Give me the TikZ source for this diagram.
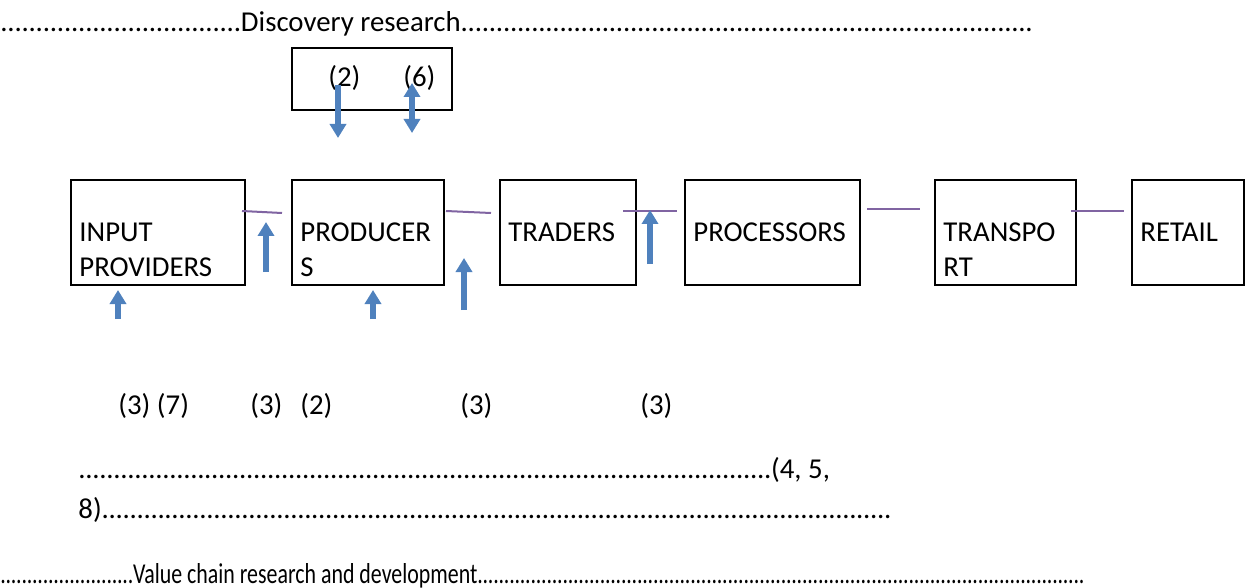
\documentclass[tikz,border=0pt]{standalone}
\usepackage{fontspec}
\usepackage{graphicx}
\setmainfont{Carlito}
\usetikzlibrary{arrows.meta,positioning}

\definecolor{arrowblue}{HTML}{4F81BD}
\definecolor{linkpurple}{HTML}{8064A2}

\newcommand\dotrun[1]{\hbox to #1{\xleaders\hbox to 3.5pt{\hss.\hss}\hfill}}

\tikzset{
  stage/.style={draw, line width=1pt, minimum height=52.5pt, inner sep=0pt},
  lbl/.style={anchor=north west, inner sep=0pt, align=left},
  txt/.style={anchor=base west, inner sep=0pt},
  flow/.style={arrowblue, line width=2.6pt, -{Triangle[width=8pt,length=7pt]}},
  flowboth/.style={arrowblue, line width=2.6pt, {Triangle[width=8pt,length=7pt]}-{Triangle[width=8pt,length=7pt]}},
  link/.style={linkpurple, line width=1pt}
}

\begin{document}
\begin{tikzpicture}[x=0.5pt, y=-0.5pt, font=\fontsize{14.4}{17.5}\selectfont]
\useasboundingbox (0,0) rectangle (1246,588);

% research lines
\node[txt] (disc) at (0,32) {\dotrun{120.5pt}Discovery research\dotrun{286.5pt}};
\node[txt] (vcrd) at (0,583) {\scalebox{0.76}[1]{\dotrun{87.5pt}Value chain research and development\dotrun{400pt}}};

% discovery box
\node[draw, line width=1pt, minimum width=80pt, minimum height=31pt] (rs) at (372,79) {};
\node[txt] (rs2) at (328,87) {(2)};
\node[txt] (rs6) at (403,87) {(6)};

% the chain
\node[stage, minimum width=87pt] (ip) at (158,232.5) {};
\node[stage, minimum width=76pt] (pr) at (368,232.5) {};
\node[stage, minimum width=68pt] (tr) at (568,232.5) {};
\node[stage, minimum width=87.5pt] (pc) at (772.5,232.5) {};
\node[stage, minimum width=70.5pt] (tp) at (1005.5,232.5) {};
\node[stage, minimum width=56pt] (rt) at (1188,232.5) {};

\node[lbl] at ([xshift=4.5pt,yshift=-18.75pt]ip.north west) {\strut INPUT\\PROVIDERS};
\node[lbl] at ([xshift=4.5pt,yshift=-18.75pt]pr.north west) {\strut PRODUCER\\S};
\node[lbl] at ([xshift=4.5pt,yshift=-18.75pt]tr.north west) {\strut TRADERS};
\node[lbl] at ([xshift=4.5pt,yshift=-18.75pt]pc.north west) {\strut PROCESSORS};
\node[lbl] at ([xshift=4.5pt,yshift=-18.75pt]tp.north west) {\strut TRANSPO\\RT};
\node[lbl] at ([xshift=4.5pt,yshift=-18.75pt]rt.north west) {\strut RETAIL};

% links
\draw[link] ([xshift=-2pt,yshift=10.75pt]ip.east) -- ([xshift=-4.5pt,yshift=9.75pt]pr.west);
\draw[link] ([xshift=0.5pt,yshift=10.75pt]pr.east) -- ([xshift=-4pt,yshift=9.75pt]tr.west);
\draw[link] ([xshift=-7pt,yshift=10.75pt]tr.east) -- ([xshift=-3.5pt,yshift=10.75pt]pc.west);
\draw[link] ([xshift=3pt,yshift=11.75pt]pc.east) -- ([xshift=-7pt,yshift=11.75pt]tp.west);
\draw[link] ([xshift=-3pt,yshift=10.75pt]tp.east) -- ([xshift=-3.5pt,yshift=10.75pt]rt.west);

% arrows
\draw[flow] ([xshift=-20pt,yshift=-16.5pt]ip.south) -- ([xshift=-20pt,yshift=-2pt]ip.south);
\draw[flow] ([xshift=2.5pt,yshift=-16.5pt]pr.south) -- ([xshift=2.5pt,yshift=-2pt]pr.south);
\draw[flow] ([xshift=10pt,yshift=-19.75pt]ip.east) -- ([xshift=10pt,yshift=5.25pt]ip.east);
\draw[flow] ([xshift=9.5pt,yshift=-38.75pt]pr.east) -- ([xshift=9.5pt,yshift=-12.75pt]pr.east);
\draw[flow] ([xshift=6.5pt,yshift=-15.75pt]tr.east) -- ([xshift=6.5pt,yshift=11.25pt]tr.east);
\draw[flow] ([xshift=-17pt,yshift=13pt]rs.south) -- ([xshift=-17pt,yshift=-13.5pt]rs.south);
\draw[flowboth] ([xshift=20pt,yshift=14pt]rs.south) -- ([xshift=20pt,yshift=-11pt]rs.south);

% numbers
\node[txt] (n1) at (118,414) {(3) (7)};
\node[txt] (n2) at (250,414) {(3)};
\node[txt] (n3) at (300,414) {(2)};
\node[txt] (n4) at (460,414) {(3)};
\node[txt] (n5) at (640,414) {(3)};

\node[txt] (rest1) at (78,478) {\dotrun{347pt}(4, 5,};
\node[txt] (rest2) at (78,518) {8)\dotrun{395.5pt}};
\end{tikzpicture}
\end{document}
